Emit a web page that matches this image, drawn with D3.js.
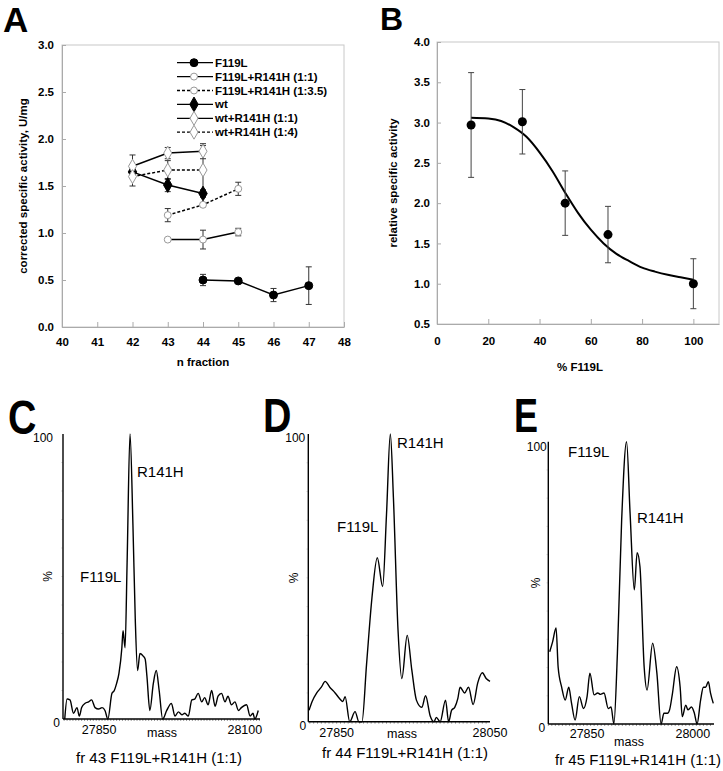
<!DOCTYPE html>
<html><head><meta charset="utf-8">
<script src="https://cdn.jsdelivr.net/npm/d3@7"></script>
<style>body{margin:0;background:#fff} svg{display:block}</style>
</head><body><svg id="c" width="723" height="771"></svg>
<script>
// ---------------- DATA ----------------
// Panel A: corrected specific activity vs n fraction
const fracTicks = [40,41,42,43,44,45,46,47,48];
const actTicks = [0,0.5,1.0,1.5,2.0,2.5,3.0];
const legendA = ["F119L","F119L+R141H (1:1)","F119L+R141H (1:3.5)","wt","wt+R141H (1:1)","wt+R141H (1:4)"];
const fracF119L = [44,45,46,47];
const actF119L  = [0.50,0.49,0.34,0.44];
const errF119L  = [0.06,0.01,0.07,0.20];
const fracF119L_R11 = [43,44,45];
const actF119L_R11  = [0.93,0.93,1.01];
const errF119L_R11  = [0.01,0.10,0.04];
const fracF119L_R135 = [43,44,45];
const actF119L_R135  = [1.19,1.30,1.47];
const errF119L_R135  = [0.07,0.02,0.07];
const fracWt = [42,43,44];
const actWt  = [1.65,1.51,1.42];
const errWt  = [0.03,0.07,0.04];
const fracWt_R11 = [42,43,44];
const actWt_R11  = [1.71,1.85,1.87];
const errWt_R11  = [0.12,0.06,0.08];
const fracWt_R14 = [42,43,44];
const actWt_R14  = [1.60,1.67,1.67];
const errWt_R14  = [0.10,0.10,0.26];

// Panel B: relative specific activity vs % F119L
const pctTicks = [0,20,40,60,80,100];
const relTicks = [0.5,1.0,1.5,2.0,2.5,3.0,3.5,4.0];
const pctF119L = [13.3,33.3,50,66.7,100];
const relAct   = [2.97,3.01,2.00,1.61,1.00];
const relErr   = [0.65,0.40,0.40,0.35,0.31];
const fitPct = [13.3,20,25,30,35,40,45,50,55,60,65,70,75,80,85,90,95,100];
const fitRel = [3.06,3.05,3.02,2.94,2.82,2.63,2.40,2.13,1.88,1.67,1.50,1.37,1.28,1.20,1.15,1.11,1.08,1.05];

// Panels C-E: mass spectra [mass, intensity %]
const specC = [[27791,0],[27795,7],[27800,6.7],[27806,2],[27812,4],[27816,1],[27820,4],[27826,5.5],[27832,6],[27837,6.7],[27843,4],[27849,3.5],[27855,4],[27860,3],[27865,0],[27872,9],[27876,10],[27880,12.5],[27884,16],[27889,25],[27891,31],[27894.5,25],[27898,55],[27903,100],[27908,68],[27912,35],[27916,17],[27920,23],[27926,22],[27929,21],[27932,15],[27937,3],[27943,12.5],[27948,17],[27953,10],[27959,0],[27966,3],[27974,5.5],[27980,1],[27986,2.5],[27992,1.5],[27997,2],[28003,1],[28009,6.7],[28014,7],[28020,9],[28026,6],[28031,7.5],[28037,5],[28043,10],[28049,4.5],[28054,8],[28060,9],[28066,6],[28071,8],[28077,5],[28083,6],[28089,3],[28094,4],[28103,5],[28109,1],[28114,2],[28117,0],[28123,3]];
const specD = [[27814,4],[27818,7],[27824,10],[27830,12],[27835,14],[27841,12],[27848,10],[27854,8],[27858,7],[27861,8.7],[27867,0],[27874,3.5],[27879,0],[27883,0],[27889,20],[27896,43],[27903,57],[27910,47],[27915,72],[27920,100],[27924,78],[27930,32],[27935,15],[27942,30],[27948,18],[27954,7.5],[27961,5],[27966,9],[27972,2],[27977,0],[27980,1.5],[27985,0],[27992,7.5],[27996,0],[28000,4],[28004,5],[28008,8],[28011,12],[28017,10],[28022,12],[28028,6],[28034,13.5],[28040,17],[28045,15],[28050,14]];
const specE = [[27797,25.6],[27801,29],[27806,34],[27809,20],[27814,13],[27819,8.5],[27824,13],[27828,7.3],[27833,1.4],[27839,9.7],[27845,5.5],[27850,9.7],[27854,18],[27860,10.3],[27865,11],[27869,10.5],[27874,11],[27880,5.5],[27884,6],[27888,0],[27893,25],[27899,72],[27906,100],[27911,74.6],[27917,47.5],[27921,60.7],[27925,55.7],[27931,20],[27935,12],[27943,28.6],[27949,18],[27955,0],[27959,3.8],[27964,3.8],[27967,5],[27971,10.7],[27977,20.3],[27982,13],[27985,2.6],[27990,6.7],[27993,5],[27998,6],[28002,4],[28006,0],[28011,8.5],[28015,13],[28018,13],[28022,15],[28025,11],[28029,7.3]];
const massTicksC = [27850,28100];
const massTicksD = [27850,28050];
const massTicksE = [27850,28000];
const captionC = "fr 43 F119L+R141H (1:1)";
const captionD = "fr 44 F119L+R141H (1:1)";
const captionE = "fr 45 F119L+R141H (1:1)";

// ---------------- DRAW ----------------
const FONT = '"Liberation Sans", Arial, Helvetica, sans-serif';
const svg = d3.select("#c").attr("font-family", FONT);
svg.append("rect").attr("width",723).attr("height",771).attr("fill","#fff");

function panelLetter(t, x, y, size, sx){
  svg.append("text").attr("transform",`translate(${x},${y}) scale(${sx||1},1)`)
    .attr("font-size",size).attr("font-weight","bold").attr("fill","#000").text(t);
}

function styleAxis(g, size){
  g.attr("font-family",FONT).attr("font-size",size).attr("font-weight","bold");
  g.select(".domain").attr("stroke","#aaa");
  g.selectAll(".tick line").attr("stroke","#aaa");
  g.selectAll(".tick text").attr("fill","#000");
}

// ---- Panel A ----
const ax = d3.scaleLinear().domain([40,48]).range([62,344]);
const ay = d3.scaleLinear().domain([0,3]).range([327,45]);
const gA = svg.append("g");
gA.append("rect").attr("x",ax.range()[0]).attr("y",ay.range()[1])
  .attr("width",ax.range()[1]-ax.range()[0]).attr("height",ay.range()[0]-ay.range()[1])
  .attr("fill","none").attr("stroke","#c8c8c8");
gA.append("g").attr("transform",`translate(0,${ay(0)})`)
  .call(d3.axisBottom(ax).tickValues(fracTicks).tickSizeInner(-5).tickSizeOuter(0).tickPadding(11).tickFormat(d3.format("d")))
  .call(g=>styleAxis(g,11.5));
gA.append("g").attr("transform",`translate(${ax(40)},0)`)
  .call(d3.axisLeft(ay).tickValues(actTicks).tickSizeInner(-4).tickSizeOuter(0).tickPadding(8).tickFormat(d3.format(".1f")))
  .call(g=>styleAxis(g,11.5));
gA.append("text").attr("x",(ax.range()[0]+ax.range()[1])/2).attr("y",366).attr("text-anchor","middle")
  .attr("font-size",11.5).attr("font-weight","bold").text("n fraction");
gA.append("text").attr("transform",`translate(27,${(ay.range()[0]+ay.range()[1])/2}) rotate(-90)`).attr("text-anchor","middle")
  .attr("font-size",11.5).attr("font-weight","bold").text("corrected specific activity, U/mg");

const seriesA = [
  {x:fracF119L,y:actF119L,e:errF119L,dash:null,shape:"circle",filled:true},
  {x:fracF119L_R11,y:actF119L_R11,e:errF119L_R11,dash:null,shape:"circle",filled:false},
  {x:fracF119L_R135,y:actF119L_R135,e:errF119L_R135,dash:"3,2",shape:"circle",filled:false},
  {x:fracWt,y:actWt,e:errWt,dash:null,shape:"diamond",filled:true},
  {x:fracWt_R11,y:actWt_R11,e:errWt_R11,dash:null,shape:"diamond",filled:false},
  {x:fracWt_R14,y:actWt_R14,e:errWt_R14,dash:"3,2",shape:"diamond",filled:false}
];
function marker(g, shape, filled, cx, cy, big){
  const sz = shape==="circle" ? (filled? (big?64:50) : 38) : (filled? 62 : 56);
  const sym = shape==="circle" ? d3.symbolCircle : d3.symbolDiamond;
  g.append("path").attr("d", d3.symbol().type(sym).size(sz)())
    .attr("transform",`translate(${cx},${cy})`)
    .attr("fill", filled ? "#000" : "#fff")
    .attr("stroke", filled ? "#000" : "#999").attr("stroke-width",1);
}
const lineA = d3.line().x(d=>ax(d[0])).y(d=>ay(d[1]));
seriesA.forEach(s=>{
  const pts = s.x.map((v,i)=>[v,s.y[i]]);
  gA.append("path").attr("d",lineA(pts)).attr("fill","none").attr("stroke","#000")
    .attr("stroke-width",1.5).attr("stroke-dasharray",s.dash);
});
seriesA.forEach(s=>{
  s.x.forEach((v,i)=>{
    const cx = ax(v), y1 = ay(s.y[i]+s.e[i]), y2 = ay(s.y[i]-s.e[i]);
    gA.append("line").attr("x1",cx).attr("x2",cx).attr("y1",y1).attr("y2",y2).attr("stroke","#333");
    [y1,y2].forEach(yy=>gA.append("line").attr("x1",cx-3).attr("x2",cx+3).attr("y1",yy).attr("y2",yy).attr("stroke","#333"));
  });
});
seriesA.forEach(s=>{ s.x.forEach((v,i)=>marker(gA,s.shape,s.filled,ax(v),ay(s.y[i]))); });
// legend
legendA.forEach((name,i)=>{
  const s = seriesA[i], ly = 62.7 + i*13.9;
  gA.append("line").attr("x1",177).attr("x2",213).attr("y1",ly).attr("y2",ly)
    .attr("stroke","#000").attr("stroke-width",1.3).attr("stroke-dasharray",s.dash);
  marker(gA,s.shape,s.filled,194,ly);
  gA.append("text").attr("x",215).attr("y",ly+4).attr("font-size",11.5).attr("font-weight","bold").text(name);
});
panelLetter("A",3,32,35);

// ---- Panel B ----
const bx = d3.scaleLinear().domain([0,110]).range([437,719]);
const by = d3.scaleLinear().domain([0.5,4]).range([324,42]);
const gB = svg.append("g");
gB.append("rect").attr("x",bx.range()[0]).attr("y",by.range()[1])
  .attr("width",bx.range()[1]-bx.range()[0]).attr("height",by.range()[0]-by.range()[1])
  .attr("fill","none").attr("stroke","#c8c8c8");
gB.append("g").attr("transform",`translate(0,${by(0.5)})`)
  .call(d3.axisBottom(bx).tickValues(pctTicks).tickSizeInner(-5).tickSizeOuter(0).tickPadding(13).tickFormat(d3.format("d")))
  .call(g=>styleAxis(g,11.5));
gB.append("g").attr("transform",`translate(${bx(0)},0)`)
  .call(d3.axisLeft(by).tickValues(relTicks).tickSizeInner(-4).tickSizeOuter(0).tickPadding(7).tickFormat(d3.format(".1f")))
  .call(g=>styleAxis(g,11.5));
gB.append("text").attr("x",580).attr("y",371).attr("text-anchor","middle")
  .attr("font-size",11.5).attr("font-weight","bold").text("% F119L");
gB.append("text").attr("transform",`translate(397,${(by.range()[0]+by.range()[1])/2}) rotate(-90)`).attr("text-anchor","middle")
  .attr("font-size",11.5).attr("font-weight","bold").text("relative specific activity");
gB.append("path").attr("d",d3.line().x(d=>bx(d[0])).y(d=>by(d[1])).curve(d3.curveMonotoneX)(fitPct.map((v,i)=>[v,fitRel[i]])))
  .attr("fill","none").attr("stroke","#000").attr("stroke-width",2);
pctF119L.forEach((v,i)=>{
  const cx = bx(v), y1 = by(relAct[i]+relErr[i]), y2 = by(relAct[i]-relErr[i]);
  gB.append("line").attr("x1",cx).attr("x2",cx).attr("y1",y1).attr("y2",y2).attr("stroke","#444");
  [y1,y2].forEach(yy=>gB.append("line").attr("x1",cx-3).attr("x2",cx+3).attr("y1",yy).attr("y2",yy).attr("stroke","#444"));
  gB.append("circle").attr("cx",cx).attr("cy",by(relAct[i])).attr("r",4.5).attr("fill","#000");
});
panelLetter("B",380,30,32);

// ---- Panels C, D, E ----
function spectrum(cfg){
  const x = d3.scaleLinear().domain(cfg.domain).range(cfg.xr);
  const y = d3.scaleLinear().domain([0,100]).range(cfg.yr);
  const g = svg.append("g");
  const mt = d3.range(Math.ceil(cfg.domain[0]/5)*5, cfg.domain[1], 5);
  g.selectAll(null).data(mt).join("line").attr("x1",d=>x(d)).attr("x2",d=>x(d))
    .attr("y1",y(0)).attr("y2",y(0)+2).attr("stroke","#555").attr("stroke-width",0.6);
  g.selectAll(null).data(d3.range(10,100,10)).join("line").attr("x1",x.range()[0]-2).attr("x2",x.range()[0])
    .attr("y1",d=>y(d)).attr("y2",d=>y(d)).attr("stroke","#ccc").attr("stroke-width",0.6);
  g.append("line").attr("x1",x.range()[0]).attr("x2",x.range()[1]).attr("y1",y(0)).attr("y2",y(0)).attr("stroke","#000").attr("stroke-width",1.4);
  g.append("line").attr("x1",x.range()[0]).attr("x2",x.range()[0]).attr("y1",y(0)).attr("y2",y(100)).attr("stroke","#000").attr("stroke-width",1.4);
  g.append("path").attr("d",d3.line().x(d=>x(d[0])).y(d=>y(d[1])).curve(d3.curveMonotoneX)(cfg.data))
    .attr("fill","none").attr("stroke","#000").attr("stroke-width",1.4).attr("stroke-linejoin","round");
  g.selectAll(null).data(cfg.ticks).join("text").attr("x",d=>x(d)).attr("y",y(0)+cfg.tickDy)
    .attr("text-anchor","middle").attr("font-size",12.5).text(d=>d);
  g.append("text").attr("x",cfg.massX).attr("y",y(0)+cfg.massDy).attr("text-anchor","middle").attr("font-size",12.5).text("mass");
  g.append("text").attr("x",x.range()[0]-cfg.lab100).attr("y",y(100)+cfg.dy100).attr("text-anchor","end").attr("font-size",12).text("100");
  g.append("text").attr("x",x.range()[0]-cfg.lab0).attr("y",y(0)+8).attr("text-anchor","end").attr("font-size",12).text("0");
  g.append("text").attr("transform",`translate(${x.range()[0]-cfg.pctDx},${(y(0)+y(100))/2+cfg.pctDy}) rotate(-90)`)
    .attr("text-anchor","middle").attr("font-size",12).text("%");
  cfg.peaks.forEach(p=>g.append("text").attr("x",p[1]).attr("y",p[2]).attr("font-size",15).text(p[0]));
  g.append("text").attr("x",cfg.capX).attr("y",cfg.capY).attr("text-anchor","middle").attr("font-size",15).text(cfg.caption);
}
spectrum({data:specC, domain:[27788,28126], xr:[63,260], yr:[719,434], ticks:massTicksC, tickDy:15, massX:162, massDy:18,
  lab100:10, dy100:8, lab0:3, pctDx:11, pctDy:0, peaks:[["F119L",80,582],["R141H",137,477]], caption:captionC, capX:159, capY:763});
spectrum({data:specD, domain:[27813,28050], xr:[308.3,490], yr:[721.7,434], ticks:massTicksD, tickDy:15, massX:402, massDy:16,
  lab100:3, dy100:8, lab0:2, pctDx:10, pctDy:0, peaks:[["F119L",337,532],["R141H",397,448]], caption:captionD, capX:405, capY:758});
spectrum({data:specE, domain:[27795,28030], xr:[548.3,714], yr:[724,441.7], ticks:massTicksE, tickDy:14, massX:629, massDy:22,
  lab100:1.5, dy100:9, lab0:3, pctDx:8, pctDy:0, peaks:[["F119L",568,457],["R141H",637,523]], caption:captionE, capX:638, capY:765});
panelLetter("C",8,434,48,0.82);
panelLetter("D",263,432,48,0.82);
panelLetter("E",514,432,48,0.75);
</script></body></html>
